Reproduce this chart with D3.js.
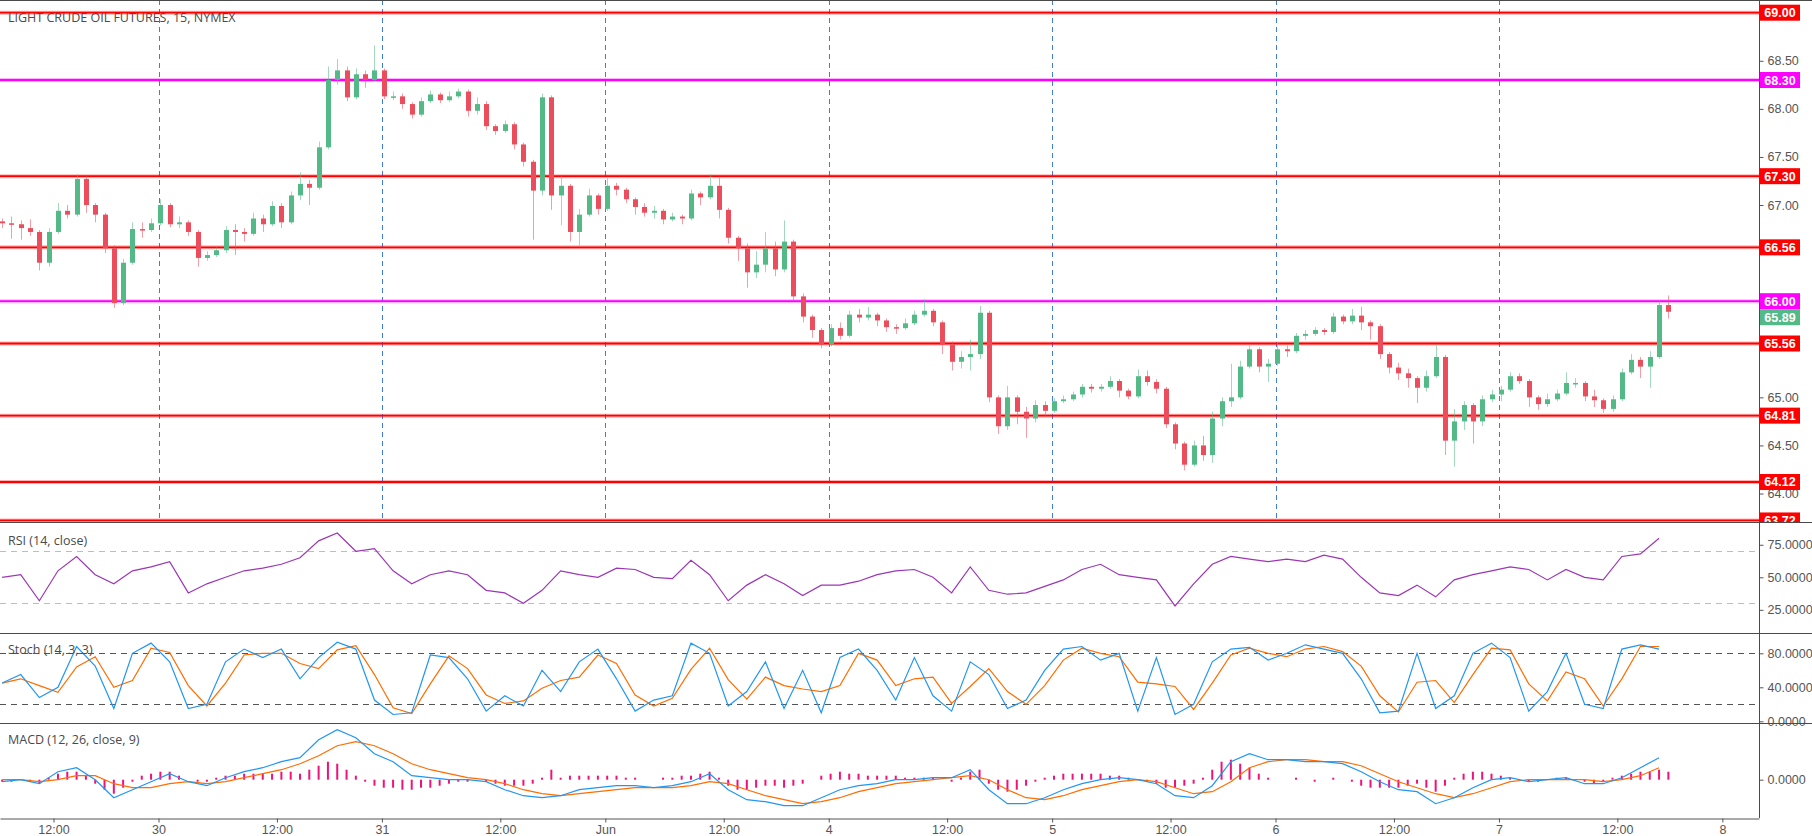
<!DOCTYPE html>
<html>
<head>
<meta charset="utf-8">
<title>Light Crude Oil Futures, 15, NYMEX</title>
<style>
    body { margin: 0; background: #fff; }
    svg text { font-family: "Liberation Sans", Arial, sans-serif; }
    .lbl { font-family: "Open Sans", sans-serif; font-size: 12.5px; fill: #4a4a4a; }
    .axis text { font-size: 12.5px; fill: #555; }
    .axis line { stroke: #555; }
    .axis path { stroke: #555; }
</style>
</head>
<body>
<script src="https://d3js.org/d3.v7.min.js"></script>
<script>
// ---- data ----
// one candle every 1/24 day, first candle at day -0.70 (day 0 = May 30)
var barStart = -0.70, barStep = 1 / 24;
var firstOpen = 66.83;
var closes = [
    66.81, 66.80, 66.76, 66.72, 66.40, 66.72, 66.94, 66.90, 67.27, 67.00,
    66.90, 66.55, 65.98, 66.40, 66.75, 66.74, 66.81, 67.00, 66.80, 66.82,
    66.72, 66.45, 66.48, 66.53, 66.74, 66.72, 66.70, 66.86, 66.80, 66.99,
    66.82, 67.10, 67.22, 67.18, 67.60, 68.30, 68.40, 68.12, 68.36, 68.30,
    68.40, 68.13, 68.13, 68.05, 67.94, 68.08, 68.15, 68.09, 68.13, 68.18,
    67.98, 68.05, 67.82, 67.77, 67.84, 67.63, 67.45, 67.15, 68.12, 67.10,
    67.20, 66.72, 66.90, 67.10, 66.96, 67.20, 67.16, 67.06, 66.98, 66.92,
    66.94, 66.85, 66.88, 66.86, 67.12, 67.08, 67.20, 66.95, 66.66, 66.55,
    66.30, 66.38, 66.55, 66.33, 66.62, 66.05, 65.84, 65.70, 65.55, 65.72,
    65.64, 65.86, 65.83, 65.86, 65.80, 65.73, 65.72, 65.77, 65.86, 65.90,
    65.78, 65.55, 65.37, 65.42, 65.45, 65.88, 65.00, 64.70, 65.00, 64.85,
    64.78, 64.92, 64.86, 64.96, 64.98, 65.03, 65.11, 65.09, 65.11, 65.17,
    65.07, 65.01, 65.22, 65.16, 65.09, 64.72, 64.52, 64.30, 64.50, 64.40,
    64.78, 64.96, 65.00, 65.32, 65.50, 65.32, 65.35, 65.50, 65.48, 65.64,
    65.66, 65.70, 65.68, 65.84, 65.79, 65.85, 65.78, 65.74, 65.45, 65.31,
    65.25, 65.20, 65.10, 65.22, 65.42, 64.55, 64.75, 64.92, 64.75, 64.98,
    65.03, 65.08, 65.22, 65.17, 65.00, 64.93, 64.98, 65.04, 65.15, 65.15,
    65.01, 64.97, 64.88, 64.98, 65.26, 65.39, 65.32, 65.42, 65.96, 65.89
];
var highs = [
    66.86, 66.88, 66.84, 66.85, 66.74, 66.76, 67.02, 67.00, 67.32, 67.30,
    67.02, 66.92, 66.58, 66.44, 66.82, 66.82, 66.86, 67.06, 67.02, 66.88,
    66.84, 66.74, 66.52, 66.56, 66.78, 66.80, 66.76, 66.92, 66.90, 67.04,
    67.02, 67.14, 67.34, 67.26, 67.66, 68.44, 68.52, 68.44, 68.42, 68.40,
    68.66, 68.42, 68.18, 68.16, 68.07, 68.12, 68.19, 68.17, 68.18, 68.21,
    68.20, 68.12, 68.08, 67.84, 67.88, 67.86, 67.65, 67.47, 68.16, 68.14,
    67.30, 67.22, 66.96, 67.17, 67.12, 67.28, 67.23, 67.18, 67.08, 67.02,
    66.99, 66.96, 66.92, 66.90, 67.16, 67.14, 67.32, 67.28, 66.97, 66.68,
    66.60, 66.52, 66.72, 66.62, 66.84, 66.64, 66.08, 65.86, 65.72, 65.76,
    65.78, 65.90, 65.92, 65.94, 65.88, 65.82, 65.76, 65.82, 65.90, 66.02,
    65.92, 65.80, 65.58, 65.48, 65.60, 65.95, 65.90, 65.02, 65.12, 65.02,
    64.90, 64.97, 64.96, 64.99, 65.02, 65.06, 65.14, 65.14, 65.14, 65.22,
    65.19, 65.09, 65.29, 65.28, 65.19, 65.11, 64.74, 64.54, 64.55, 64.60,
    64.85, 65.00, 65.35, 65.38, 65.54, 65.52, 65.40, 65.57, 65.54, 65.67,
    65.70, 65.73, 65.72, 65.88, 65.86, 65.92, 65.94, 65.80, 65.76, 65.47,
    65.36, 65.30, 65.22, 65.28, 65.55, 65.44, 64.88, 64.96, 64.94, 65.02,
    65.08, 65.12, 65.26, 65.25, 65.19, 65.02, 65.04, 65.08, 65.26, 65.20,
    65.17, 65.08, 64.99, 65.02, 65.30, 65.45, 65.42, 65.48, 66.00, 66.06
];
var lows = [
    66.76, 66.65, 66.64, 66.68, 66.32, 66.36, 66.70, 66.86, 66.88, 66.92,
    66.82, 66.50, 65.93, 65.96, 66.38, 66.66, 66.72, 66.79, 66.77, 66.76,
    66.68, 66.36, 66.42, 66.46, 66.50, 66.48, 66.62, 66.68, 66.72, 66.78,
    66.76, 66.80, 67.05, 67.00, 67.16, 67.58, 68.25, 68.08, 68.10, 68.22,
    68.28, 68.10, 68.09, 68.00, 67.90, 67.92, 68.06, 68.06, 68.07, 68.11,
    67.92, 67.94, 67.78, 67.73, 67.75, 67.58, 67.40, 66.64, 67.10, 66.95,
    66.79, 66.62, 66.58, 66.88, 66.90, 66.94, 67.10, 67.02, 66.90, 66.88,
    66.86, 66.80, 66.83, 66.80, 66.84, 67.00, 67.06, 66.86, 66.60, 66.42,
    66.14, 66.24, 66.30, 66.26, 66.30, 66.00, 65.78, 65.62, 65.51, 65.53,
    65.60, 65.62, 65.78, 65.80, 65.74, 65.68, 65.66, 65.70, 65.75, 65.84,
    65.74, 65.45, 65.28, 65.30, 65.28, 65.40, 64.95, 64.62, 64.66, 64.72,
    64.58, 64.74, 64.80, 64.84, 64.94, 64.96, 65.00, 65.05, 65.06, 65.09,
    65.00, 64.98, 64.99, 65.12, 65.04, 64.68, 64.46, 64.24, 64.28, 64.34,
    64.32, 64.70, 64.90, 64.98, 65.30, 65.26, 65.16, 65.33, 65.42, 65.46,
    65.60, 65.64, 65.65, 65.66, 65.76, 65.76, 65.70, 65.60, 65.40, 65.25,
    65.18, 65.10, 64.94, 65.06, 65.20, 64.40, 64.28, 64.66, 64.52, 64.70,
    64.95, 64.96, 65.06, 65.14, 64.90, 64.87, 64.90, 64.96, 65.02, 65.10,
    64.96, 64.90, 64.84, 64.85, 64.96, 65.24, 65.20, 65.10, 65.40, 65.82
];
var lastPrice = 65.89;

// horizontal levels
var redLevels = [69.00, 67.30, 66.56, 65.56, 64.81, 64.12, 63.72];
var magentaLevels = [68.30, 66.00];

// indicators, one value every 1/12 day from day -0.70
var indStart = -0.70, indStep = 1 / 12;
var rsi = [
    50, 52, 32, 55, 66, 52, 45, 55, 58, 62,
    38, 45, 50, 55, 57, 60, 65, 78, 84, 70,
    72, 55, 45, 52, 55, 52, 40, 38, 30, 40,
    55, 52, 50, 57, 56, 50, 49, 63, 52, 32,
    44, 52, 45, 36, 44, 44, 47, 52, 55, 56,
    50, 38, 58, 40, 37, 38, 43, 48, 56, 60,
    52, 50, 48, 28, 45, 60, 66, 64, 62, 64,
    62, 67, 64, 50, 38, 36, 44, 35, 48, 52,
    55, 58, 56, 48, 56, 50, 48, 66, 68, 80
];
var stochK = [
    45, 55, 28, 40, 88, 65, 15, 80, 92, 70,
    15, 20, 70, 85, 75, 85, 50, 75, 93, 85,
    25, 8, 10, 78, 75, 50, 12, 30, 18, 60,
    35, 70, 85, 50, 12, 25, 30, 92, 80, 18,
    35, 70, 15, 60, 10, 75, 85, 60, 25, 75,
    30, 12, 70, 55, 15, 25, 60, 85, 88, 72,
    80, 12, 75, 8, 20, 70, 85, 87, 72, 80,
    90, 85, 80, 50, 10, 12, 80, 15, 30, 80,
    92, 75, 12, 35, 80, 20, 15, 85, 90, 85
];
var stochD = [
    45, 50, 42, 34, 64, 76, 40, 48, 86, 81,
    42, 18, 45, 78, 80, 80, 68, 62, 84, 89,
    55, 16, 9, 44, 77, 62, 31, 21, 24, 39,
    48, 52, 78, 68, 31, 18, 27, 61, 86, 49,
    26, 52, 42, 38, 35, 42, 80, 72, 42, 50,
    52, 21, 41, 62, 35, 20, 42, 72, 86, 80,
    76, 46, 44, 41, 14, 45, 78, 86, 80, 76,
    85, 88, 82, 65, 30, 11, 46, 48, 22, 55,
    86, 84, 44, 24, 58, 50, 18, 50, 88, 88
];
var macd = [
    -0.01, 0.00, -0.02, 0.04, 0.06, 0.00, -0.09, -0.05, -0.01, 0.03,
    -0.01, -0.03, 0.01, 0.04, 0.06, 0.09, 0.11, 0.20, 0.25, 0.21,
    0.13, 0.09, 0.02, 0.01, 0.00, 0.00, -0.01, -0.05, -0.08, -0.09,
    -0.08, -0.05, -0.04, -0.03, -0.03, -0.04, -0.03, -0.01, 0.03, -0.05,
    -0.10, -0.11, -0.13, -0.13, -0.09, -0.05, -0.03, -0.02, 0.00, 0.00,
    0.01, 0.01, 0.05, -0.05, -0.12, -0.12, -0.09, -0.05, -0.02, 0.00,
    0.01, 0.00, -0.02, -0.08, -0.09, -0.03, 0.09, 0.13, 0.10, 0.10,
    0.09, 0.09, 0.08, 0.04, -0.01, -0.05, -0.06, -0.12, -0.09, -0.04,
    0.00, 0.01, -0.01, 0.00, 0.01, -0.02, -0.02, 0.01, 0.06, 0.11
];
var signal = [
    0.00, 0.00, -0.01, 0.00, 0.02, 0.02, -0.02, -0.04, -0.04, -0.02,
    -0.01, -0.02, -0.01, 0.01, 0.03, 0.05, 0.08, 0.12, 0.17, 0.19,
    0.17, 0.13, 0.08, 0.05, 0.03, 0.01, 0.00, -0.02, -0.05, -0.07,
    -0.08, -0.07, -0.06, -0.05, -0.04, -0.04, -0.04, -0.03, -0.01, -0.02,
    -0.05, -0.08, -0.10, -0.12, -0.11, -0.09, -0.06, -0.04, -0.02, -0.01,
    0.00, 0.01, 0.02, 0.00, -0.05, -0.09, -0.10, -0.08, -0.05, -0.03,
    -0.01, 0.00, -0.01, -0.04, -0.07, -0.06, -0.01, 0.06, 0.09, 0.10,
    0.10, 0.09, 0.09, 0.07, 0.03, -0.01, -0.04, -0.07, -0.09, -0.07,
    -0.04, -0.01, 0.00, 0.00, 0.00, 0.00, -0.01, 0.00, 0.02, 0.06
];
// histogram, one bar per candle
var hist = [
    -0.01, -0.01, 0.00, -0.01, -0.02, 0.01, 0.03, 0.04, 0.04, 0.02,
    -0.02, -0.05, -0.07, -0.04, -0.01, 0.02, 0.03, 0.04, 0.04, 0.02,
    0.00, -0.01, -0.01, 0.01, 0.02, 0.02, 0.03, 0.03, 0.03, 0.03,
    0.04, 0.04, 0.03, 0.05, 0.07, 0.09, 0.08, 0.05, 0.02, -0.01,
    -0.03, -0.04, -0.04, -0.05, -0.05, -0.04, -0.04, -0.03, -0.02, -0.01,
    -0.01, 0.00, -0.01, -0.02, -0.03, -0.03, -0.03, -0.02, 0.01, 0.05,
    0.01, 0.02, 0.02, 0.02, 0.02, 0.02, 0.02, 0.01, 0.01, 0.00,
    0.00, 0.01, 0.01, 0.02, 0.02, 0.03, 0.04, 0.01, -0.03, -0.05,
    -0.05, -0.04, -0.03, -0.03, -0.04, -0.03, -0.02, 0.00, 0.02, 0.03,
    0.04, 0.03, 0.03, 0.02, 0.02, 0.02, 0.02, 0.01, 0.01, 0.01,
    0.01, 0.00, -0.01, 0.01, 0.04, 0.05, -0.02, -0.05, -0.06, -0.05,
    -0.03, -0.01, 0.01, 0.02, 0.03, 0.03, 0.03, 0.03, 0.03, 0.02,
    0.02, 0.01, 0.00, -0.01, -0.02, -0.04, -0.04, -0.03, -0.02, 0.01,
    0.05, 0.09, 0.10, 0.08, 0.06, 0.03, 0.01, 0.00, 0.00, 0.01,
    0.00, -0.01, 0.00, 0.01, 0.00, -0.01, -0.03, -0.04, -0.04, -0.04,
    -0.04, -0.03, -0.02, -0.04, -0.06, -0.03, 0.01, 0.03, 0.04, 0.04,
    0.03, 0.02, 0.01, 0.00, -0.01, -0.01, 0.00, 0.01, 0.01, 0.00,
    -0.01, -0.02, -0.01, 0.01, 0.02, 0.03, 0.04, 0.04, 0.05, 0.04
];

// time axis
var tickPos = [-0.47, 0, 0.53, 1, 1.53, 2, 2.53, 3, 3.53, 4, 4.53, 5, 5.53, 6, 6.53, 7];
var tickLabels = ["12:00", "30", "12:00", "31", "12:00", "Jun", "12:00", "4", "12:00", "5", "12:00", "6", "12:00", "7", "12:00", "8"];
var dayLines = [0, 1, 2, 3, 4, 5, 6];

var priceTicks = [64.00, 64.50, 65.00, 65.50, 66.00, 66.50, 67.00, 67.50, 68.00, 68.50];

// ---- layout ----
var W = 1812, H = 836;
var plotRight = 1759;
var mainTop = 0, mainBottom = 522;
var rsiTop = 522, rsiBottom = 633;
var stTop = 633, stBottom = 723;
var mTop = 723, mBottom = 818;

var upColor = "#53b987", downColor = "#eb4d5c";

var x = d3.scaleLinear().domain([-0.7095, 7.164]).range([0, plotRight]);
var yPrice = d3.scaleLinear().domain([63.704, 69.132]).range([mainBottom, mainTop]);
var yRsi = d3.scaleLinear().domain([7.2, 92.5]).range([rsiBottom, rsiTop]);
var yStoch = d3.scaleLinear().domain([-2, 103.9]).range([stBottom, stTop]);
var yMacd = d3.scaleLinear().domain([-0.1915, 0.2835]).range([mBottom, mTop]);

var svg = d3.select("body").append("svg")
    .attr("width", W)
    .attr("height", H);

var defs = svg.append("defs");
function addClip(id, x0, y0, w, h) {
    defs.append("clipPath").attr("id", id)
        .append("rect").attr("x", x0).attr("y", y0).attr("width", w).attr("height", h);
}
addClip("cMain", 0, mainTop, plotRight, mainBottom - mainTop);
addClip("cMainAxis", plotRight, mainTop, W - plotRight, mainBottom - mainTop);
addClip("cRsi", 0, rsiTop, plotRight, rsiBottom - rsiTop);
addClip("cSt", 0, stTop, plotRight, stBottom - stTop);
addClip("cMacd", 0, mTop, plotRight, mBottom - mTop);

// ---- main pane ----
var main = svg.append("g").attr("clip-path", "url(#cMain)");

main.selectAll(".day")
    .data(dayLines)
    .enter().append("line")
    .attr("x1", function(d) { return Math.round(x(d)) + 0.5; })
    .attr("x2", function(d) { return Math.round(x(d)) + 0.5; })
    .attr("y1", mainTop)
    .attr("y2", mainBottom)
    .attr("stroke", "#3f7be0")
    .attr("stroke-width", 1)
    .attr("stroke-dasharray", "5,4");

function levelLine(g, p, color) {
    var yy = yPrice(p);
    g.append("line").attr("x1", 0).attr("x2", plotRight).attr("y1", yy).attr("y2", yy)
        .attr("stroke", color).attr("stroke-opacity", 0.3).attr("stroke-width", 4);
    g.append("line").attr("x1", 0).attr("x2", plotRight).attr("y1", yy).attr("y2", yy)
        .attr("stroke", color).attr("stroke-width", 1.8);
}
redLevels.forEach(function(p) { levelLine(main, p, "#ff0000"); });
magentaLevels.forEach(function(p) { levelLine(main, p, "#ff00ff"); });

var bars = closes.map(function(c, i) {
    return {
        t: barStart + i * barStep,
        o: i === 0 ? firstOpen : closes[i - 1],
        c: c,
        h: highs[i],
        l: lows[i]
    };
});

var candle = main.append("g").selectAll("g")
    .data(bars)
    .enter().append("g");

candle.append("line")
    .attr("x1", function(d) { return Math.round(x(d.t)) + 0.5; })
    .attr("x2", function(d) { return Math.round(x(d.t)) + 0.5; })
    .attr("y1", function(d) { return yPrice(d.h); })
    .attr("y2", function(d) { return yPrice(d.l); })
    .attr("stroke", function(d) { return d.c >= d.o ? upColor : downColor; })
    .attr("stroke-opacity", 0.55)
    .attr("stroke-width", 1);

candle.append("rect")
    .attr("x", function(d) { return Math.round(x(d.t)) - 2; })
    .attr("width", 5)
    .attr("y", function(d) { return yPrice(Math.max(d.o, d.c)); })
    .attr("height", function(d) { return Math.max(1.5, Math.abs(yPrice(d.o) - yPrice(d.c))); })
    .attr("fill", function(d) { return d.c >= d.o ? upColor : downColor; });

svg.append("text").attr("class", "lbl")
    .attr("x", 8).attr("y", mainTop + 21.5)
    .text("LIGHT CRUDE OIL FUTURES, 15, NYMEX");

// price axis; ticks that sit under a level tag are hidden as on the chart
var tagged = redLevels.concat(magentaLevels);
var visibleTicks = priceTicks.filter(function(t) {
    return tagged.every(function(p) { return Math.abs(yPrice(p) - yPrice(t)) > 9; });
});
var priceAxisG = svg.append("g").attr("clip-path", "url(#cMainAxis)");
priceAxisG.append("g")
    .attr("class", "axis")
    .attr("transform", "translate(" + (plotRight + 0.5) + ",0)")
    .call(d3.axisRight(yPrice).tickValues(visibleTicks).tickSize(4).tickPadding(4)
        .tickFormat(d3.format(".2f")))
    .call(function(g) { g.select(".domain").remove(); });

function priceTag(g, p, yy, color) {
    g.append("line").attr("x1", plotRight).attr("x2", plotRight + 5).attr("y1", yy).attr("y2", yy)
        .attr("stroke", color);
    g.append("rect").attr("x", plotRight + 1).attr("y", yy - 8).attr("width", 40).attr("height", 16)
        .attr("fill", color);
    g.append("text").attr("x", plotRight + 21).attr("y", yy + 4.5)
        .attr("text-anchor", "middle")
        .attr("fill", "#fff").attr("font-size", "12.5px").attr("font-weight", "bold")
        .text(d3.format(".2f")(p));
}
redLevels.forEach(function(p) { priceTag(priceAxisG, p, yPrice(p), "#ff0000"); });
magentaLevels.forEach(function(p) { priceTag(priceAxisG, p, yPrice(p), "#ff00ff"); });
priceTag(priceAxisG, lastPrice, Math.max(yPrice(lastPrice), yPrice(66.00) + 16), upColor);

// ---- RSI ----
var rsiG = svg.append("g").attr("clip-path", "url(#cRsi)");
[70, 30].forEach(function(v) {
    rsiG.append("line").attr("x1", 0).attr("x2", plotRight)
        .attr("y1", Math.round(yRsi(v)) + 0.5).attr("y2", Math.round(yRsi(v)) + 0.5)
        .attr("stroke", "#bdbdbd").attr("stroke-dasharray", "6,5");
});
var rsiLine = d3.line()
    .x(function(d, i) { return x(indStart + i * indStep); })
    .y(function(d) { return yRsi(d); });
rsiG.append("path").datum(rsi)
    .attr("d", rsiLine)
    .attr("fill", "none").attr("stroke", "#9c36b5").attr("stroke-width", 1.2);
svg.append("text").attr("class", "lbl").attr("x", 8).attr("y", rsiTop + 23).text("RSI (14, close)");
svg.append("g").attr("class", "axis")
    .attr("transform", "translate(" + (plotRight + 0.5) + ",0)")
    .call(d3.axisRight(yRsi).tickValues([25, 50, 75]).tickSize(4).tickPadding(4)
        .tickFormat(d3.format(".4f")))
    .call(function(g) { g.select(".domain").remove(); });

// ---- Stoch ----
var stG = svg.append("g").attr("clip-path", "url(#cSt)");
[80, 20].forEach(function(v) {
    stG.append("line").attr("x1", 0).attr("x2", plotRight)
        .attr("y1", Math.round(yStoch(v)) + 0.5).attr("y2", Math.round(yStoch(v)) + 0.5)
        .attr("stroke", "#555").attr("stroke-dasharray", "6,5");
});
var stLine = d3.line()
    .x(function(d, i) { return x(indStart + i * indStep); })
    .y(function(d) { return yStoch(d); });
stG.append("path").datum(stochD)
    .attr("d", stLine)
    .attr("fill", "none").attr("stroke", "#ff6d00").attr("stroke-width", 1.2);
stG.append("path").datum(stochK)
    .attr("d", stLine)
    .attr("fill", "none").attr("stroke", "#2196f3").attr("stroke-width", 1.2);
svg.append("text").attr("class", "lbl").attr("x", 8).attr("y", stTop + 20.5).text("Stoch (14, 3, 3)");
svg.append("g").attr("class", "axis")
    .attr("transform", "translate(" + (plotRight + 0.5) + ",0)")
    .call(d3.axisRight(yStoch).tickValues([0, 40, 80]).tickSize(4).tickPadding(4)
        .tickFormat(d3.format(".4f")))
    .call(function(g) { g.select(".domain").remove(); });

// ---- MACD ----
var mG = svg.append("g").attr("clip-path", "url(#cMacd)");
mG.selectAll(".hist")
    .data(hist)
    .enter().append("rect")
    .attr("x", function(d, i) { return x(barStart + i * barStep) - 1; })
    .attr("width", 2)
    .attr("y", function(d) { return Math.min(yMacd(d), yMacd(0)); })
    .attr("height", function(d) { return Math.abs(yMacd(d) - yMacd(0)); })
    .attr("fill", "#f0127a");
var mLine = d3.line()
    .x(function(d, i) { return x(indStart + i * indStep); })
    .y(function(d) { return yMacd(d); });
mG.append("path").datum(signal)
    .attr("d", mLine)
    .attr("fill", "none").attr("stroke", "#ff6d00").attr("stroke-width", 1.2);
mG.append("path").datum(macd)
    .attr("d", mLine)
    .attr("fill", "none").attr("stroke", "#2196f3").attr("stroke-width", 1.2);
svg.append("text").attr("class", "lbl").attr("x", 8).attr("y", mTop + 21).text("MACD (12, 26, close, 9)");
svg.append("g").attr("class", "axis")
    .attr("transform", "translate(" + (plotRight + 0.5) + ",0)")
    .call(d3.axisRight(yMacd).tickValues([0]).tickSize(4).tickPadding(4)
        .tickFormat(d3.format(".4f")))
    .call(function(g) { g.select(".domain").remove(); });

// ---- frame ----
[0.5, mainBottom + 0.5, rsiBottom + 0.5, stBottom + 0.5].forEach(function(yy) {
    svg.append("line").attr("x1", 0).attr("x2", W).attr("y1", yy).attr("y2", yy)
        .attr("stroke", "#4a4a4a").attr("stroke-width", 1);
});
svg.append("line").attr("x1", plotRight + 0.5).attr("x2", plotRight + 0.5)
    .attr("y1", 0).attr("y2", mBottom)
    .attr("stroke", "#4a4a4a");

// time axis
svg.append("g").attr("class", "axis")
    .attr("transform", "translate(0," + (mBottom + 0.5) + ")")
    .call(d3.axisBottom(x).tickValues(tickPos).tickSize(4).tickSizeOuter(0).tickPadding(3)
        .tickFormat(function(d, i) { return tickLabels[i]; }));
</script>
</body>
</html>
